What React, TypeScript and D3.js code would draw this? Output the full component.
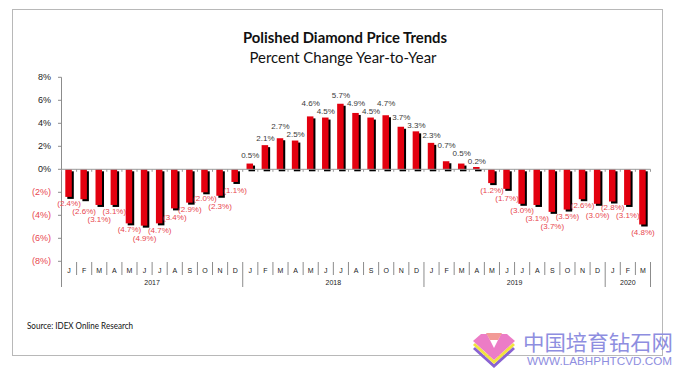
import React from "react";
import * as d3 from "d3";

const months = ["J","F","M","A","M","J","J","A","S","O","N","D","J","F","M","A","M","J","J","A","S","O","N","D","J","F","M","A","M","J","J","A","S","O","N","D","J","F","M"];
const years = ["2017", "2018", "2019", "2020"];
const yearCounts = [12, 12, 12, 3];
const values = [-2.4,-2.6,-3.1,-3.1,-4.7,-4.9,-4.7,-3.4,-2.9,-2.0,-2.3,-1.1,
  0.5,2.1,2.7,2.5,4.6,4.5,5.7,4.9,4.5,4.7,3.7,3.3,
  2.3,0.7,0.5,0.2,-1.2,-1.7,-3.0,-3.1,-3.7,-3.5,-2.6,-3.0,
  -2.8,-3.1,-4.8];
const yTicks = [8, 6, 4, 2, 0, -2, -4, -6, -8];
const title = "Polished Diamond Price Trends";
const subtitle = "Percent Change Year-to-Year";
const source = "Source: IDEX Online Research";

const W = 673, H = 368;
const RED = "#e3000f";
const NEG = "#e8464e";
const fmt = (v: number) => (v < 0 ? `(${Math.abs(v).toFixed(1)}%)` : `${v.toFixed(1)}%`);
const fmtTick = (v: number) => (v < 0 ? `(${Math.abs(v)}%)` : `${v}%`);

export default function App() {
  const x = d3.scaleBand<number>().domain(values.map((_, i) => i)).range([61.5, 650.5]);
  const y = d3.scaleLinear().domain([-8, 8]).range([261.3, 77.3]);
  const y0 = y(0);
  const bw = 6.5;
  const bx = (i: number) => (x(i) as number) + x.bandwidth() / 2 - bw / 2 - 0.5;

  // label layout: distance from zero line, relaxed to avoid neighbour overlaps
  const L = values.map((v) => {
    const len = Math.abs(y(v) - y0);
    return { v, min: len + 6, d: len + 8 };
  });
  const sep = 8;
  for (let it = 0; it < 200; it++) {
    for (let i = 0; i < L.length - 1; i++) {
      const a = L[i], b = L[i + 1];
      if (Math.sign(a.v) !== Math.sign(b.v)) continue;
      const gap = Math.abs(a.d - b.d);
      if (gap < sep) {
        const need = (sep - gap) / 2;
        if (a.d <= b.d) { a.d -= need; b.d += need; } else { a.d += need; b.d -= need; }
        a.d = Math.max(a.d, a.min);
        b.d = Math.max(b.d, b.min);
      }
    }
  }

  // category boundaries
  const bounds = d3.range(values.length + 1).map((i) => (i < values.length ? (x(i) as number) : 650.5));
  const yearStarts: number[] = [];
  yearCounts.reduce((acc, c) => { yearStarts.push(acc); return acc + c; }, 0);
  const yearBoundSet = new Set<number>([...yearStarts, values.length]);

  return (
    <svg width={W} height={H} style={{ position: "absolute", left: 0, top: 0 }} xmlns="http://www.w3.org/2000/svg">
      <rect x={0} y={0} width={W} height={H} fill="#fff" />
      <rect x={12.5} y={9.5} width={650} height={346} fill="none" stroke="#b8b8b8" strokeWidth={1} />
      <text x={345} y={43} textAnchor="middle" fontFamily="Lato, 'Open Sans', sans-serif" fontWeight={700} fontSize={15} fill="#111" textLength={204} lengthAdjust="spacingAndGlyphs">{title}</text>
      <text x={343} y={63} textAnchor="middle" fontFamily="Lato, 'Open Sans', sans-serif" fontSize={15} fill="#111" textLength={187} lengthAdjust="spacingAndGlyphs">{subtitle}</text>

      {/* y axis */}
      <line x1={61.5} x2={61.5} y1={y(8)} y2={287} stroke="#8c8c8c" />
      {yTicks.map((t) => (
        <g key={t}>
          <line x1={58} x2={61.5} y1={y(t)} y2={y(t)} stroke="#8c8c8c" />
          <text x={51} y={y(t)} dy="0.35em" textAnchor="end" fontFamily="'Liberation Sans', Arial, sans-serif" fontSize={9} fill={t < 0 ? NEG : "#222"}>{fmtTick(t)}</text>
        </g>
      ))}

      {/* bars */}
      {values.map((v, i) => {
        const top = Math.min(y(v), y0), h = Math.abs(y(v) - y0);
        return (
          <g key={i}>
            <rect x={bx(i) + 2} y={top + 2} width={bw} height={h} fill="#000" />
            <rect x={bx(i)} y={top} width={bw} height={h} fill={RED} />
          </g>
        );
      })}

      {/* zero line */}
      <line x1={61.5} x2={650.5} y1={y0} y2={y0} stroke="#9a9a9a" />
      {bounds.map((b, i) => (
        <line key={i} x1={b} x2={b} y1={y0} y2={y0 + 2.5} stroke="#9a9a9a" />
      ))}

      {/* data labels */}
      {L.map((l, i) => {
        const cx = (x(i) as number) + x.bandwidth() / 2;
        const cy = l.v < 0 ? y0 + l.d : y0 - l.d;
        return (
          <text key={i} x={cx} y={cy} dy="0.35em" textAnchor="middle" fontFamily="'Liberation Sans', Arial, sans-serif" fontSize={8} fill={l.v < 0 ? NEG : "#3a3a3a"}>{fmt(l.v)}</text>
        );
      })}

      {/* category axis */}
      {bounds.map((b, i) => (
        i === 0 ? null :
        <line key={i} x1={b} x2={b} y1={262} y2={yearBoundSet.has(i) ? 287 : 275} stroke="#8c8c8c" />
      ))}
      {months.map((m, i) => (
        <text key={i} x={(x(i) as number) + x.bandwidth() / 2} y={270.5} dy="0.35em" textAnchor="middle" fontFamily="'Liberation Sans', Arial, sans-serif" fontSize={7} fill="#222">{m}</text>
      ))}
      {years.map((yr, k) => {
        const s = yearStarts[k], e = s + yearCounts[k];
        const cx = (bounds[s] + bounds[e]) / 2;
        return (
          <text key={yr} x={cx} y={282.5} dy="0.35em" textAnchor="middle" fontFamily="'Liberation Sans', Arial, sans-serif" fontSize={7} fill="#222">{yr}</text>
        );
      })}

      <text x={27} y={326} dy="0.35em" fontFamily="Lato, 'Open Sans', sans-serif" fontSize={8.5} fill="#111" textLength={106} lengthAdjust="spacingAndGlyphs">{source}</text>

      {/* watermark */}
      <g>
        <polyline points="474,348 494,366 514,348" fill="none" stroke="#8a63d2" strokeWidth={3} />
        <polyline points="474,344 494,362 514,344" fill="none" stroke="#f2e43e" strokeWidth={3} />
        <polygon points="481,334 507,334 515,341 494,360 473,341" fill="#ec7cc6" />
        <polygon points="487,334 494,348 501,334" fill="#fff" />
        <polygon points="486,333 502,333 498,340 490,340" fill="#f29a96" />
        <text x={523} y={350} fontFamily="'Noto Sans CJK SC', sans-serif" fontSize={21} fill="#8e8ee0" textLength={150} lengthAdjust="spacingAndGlyphs">中国培育钻石网</text>
        <text x={527} y={365} fontFamily="'Liberation Sans', Arial, sans-serif" fontSize={11} fill="#8e8ee0" textLength={145} lengthAdjust="spacingAndGlyphs">WWW.LABHPHTCVD.COM</text>
      </g>
    </svg>
  );
}
